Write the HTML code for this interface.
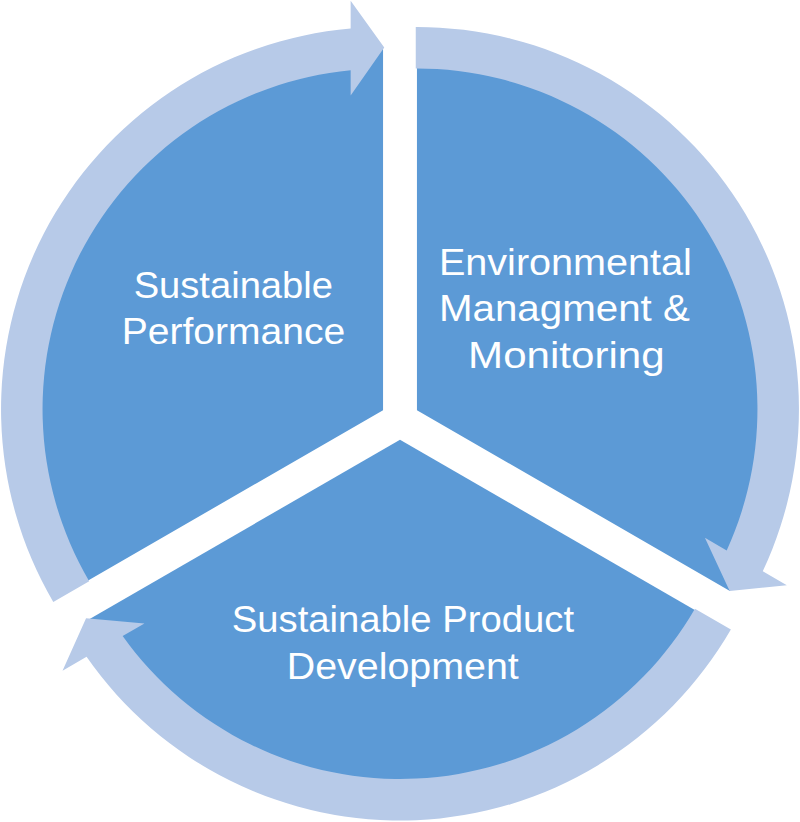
<!DOCTYPE html>
<html><head><meta charset="utf-8"><style>
html,body{margin:0;padding:0;background:#fff;width:800px;height:822px;overflow:hidden}
svg{display:block}
text{font-family:"Liberation Sans",sans-serif;font-size:37.5px;fill:#fff;text-anchor:middle}
</style></head><body>
<svg width="800" height="822" viewBox="0 0 800 822" xmlns="http://www.w3.org/2000/svg">
<path d="M416.95,410.20 L416.95,47.00 A362.0,362.0 0 0 1 729.93,590.90 Z" fill="#5C9AD6"/>
<path d="M415.75,27.00 A382.0,382.0 0 0 1 762.78,571.25 L786.83,585.14 L729.68,590.94 L704.91,537.84 L726.69,550.42 A340.5,340.5 0 0 0 415.75,68.50 Z" fill="#B7CAE8"/>
<path d="M400.00,439.75 L712.96,620.44 A362.0,362.0 0 0 1 87.04,620.44 Z" fill="#5C9AD6"/>
<path d="M730.88,629.40 A382.0,382.0 0 0 1 86.57,656.87 L62.52,670.76 L86.07,618.36 L144.44,623.46 L122.66,636.04 A340.5,340.5 0 0 0 694.94,608.65 Z" fill="#B7CAE8"/>
<path d="M383.05,410.20 L69.98,590.95 A362.0,362.0 0 0 1 383.05,47.20 Z" fill="#5C9AD6"/>
<path d="M53.27,601.99 A382.0,382.0 0 0 1 350.65,28.58 L350.65,0.80 L384.25,47.40 L350.65,95.40 L350.65,70.25 A340.5,340.5 0 0 0 89.21,581.24 Z" fill="#B7CAE8"/>
<text x="233.30" y="297.60" textLength="199.22" lengthAdjust="spacingAndGlyphs">Sustainable</text>
<text x="233.50" y="344.30" textLength="223.52" lengthAdjust="spacingAndGlyphs">Performance</text>
<text x="565.40" y="274.50" textLength="252.98" lengthAdjust="spacingAndGlyphs">Environmental</text>
<text x="564.40" y="321.40" textLength="250.94" lengthAdjust="spacingAndGlyphs">Managment &amp;</text>
<text x="566.40" y="367.90" textLength="196.53" lengthAdjust="spacingAndGlyphs">Monitoring</text>
<text x="402.90" y="631.80" textLength="342.35" lengthAdjust="spacingAndGlyphs">Sustainable Product</text>
<text x="402.80" y="678.50" textLength="232.01" lengthAdjust="spacingAndGlyphs">Development</text>
</svg>
</body></html>
